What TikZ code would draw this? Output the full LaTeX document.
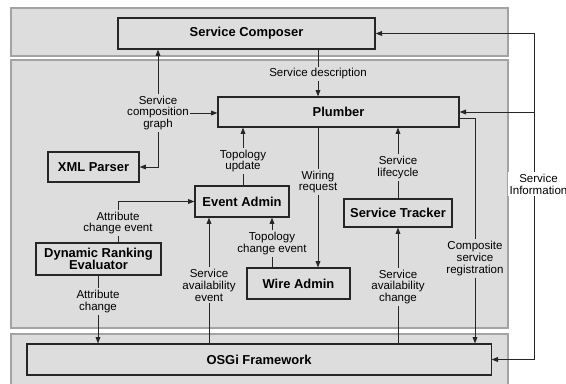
\documentclass[tikz,border=0pt]{standalone}
\usepackage{fontspec}
\setmainfont{Liberation Sans}
\usepackage{tikz}
\usetikzlibrary{arrows.meta,positioning,calc}
\definecolor{band}{HTML}{DDDDDD}
\definecolor{bandline}{HTML}{A3A3A3}
\definecolor{ink}{HTML}{262626}

\begin{document}
\begin{tikzpicture}[
    x=0.025cm, y=-0.025cm,
    layer/.style={fill=band,draw=bandline,line width=0.9pt},
    box/.style={draw=ink,fill=band,line width=0.8pt,minimum height=0.775cm,align=center,inner sep=1pt,font=\fontsize{9.2}{9}\selectfont\bfseries},
    lbl/.style={fill=band,inner sep=1pt,align=center,font=\fontsize{8.2}{8.5}\selectfont},
    link/.style={draw=ink,line width=0.6pt},
    arrow/.style={link,-{Triangle[length=1.6mm,width=1.2mm]}}
  ]
    \useasboundingbox (0,0) rectangle (566,383);

    \draw[layer] (11,8) rectangle (508,56);
    \draw[layer] (11,60) rectangle (508,328);
    \draw[layer] (11,334) rectangle (508,392);

    \node[box,minimum width=6.425cm] (composer) at (246.5,33.5) {Service Composer};
    \node[box,minimum width=6.025cm,minimum height=0.75cm] (plumber) at (338.5,112) {Plumber};
    \node[box,minimum width=2.275cm,minimum height=0.75cm] (xml) at (93.5,167) {XML Parser};
    \node[box,minimum width=2.35cm] (event) at (242,201.5) {Event Admin};
    \node[box,minimum width=2.7cm,minimum height=0.7cm] (tracker) at (398,213) {Service Tracker};
    \node[box,minimum width=2.575cm] (wire) at (298.5,283.5) {Wire Admin};
    \node[box,minimum width=3.125cm,minimum height=0.8cm] (ranking) at (98.5,259) {Dynamic Ranking\\Evaluator};
    \node[box,minimum width=11.6cm] (osgi) at (259,359.5) {OSGi Framework};

    \node[lbl] (desc) at (318,74) {Service description};
    \node[lbl] (graph) at (158,113) {Service\\composition\\graph};
    \node[lbl] (topoup) at (243,161) {Topology\\update};
    \node[lbl] (wiring) at (318,182) {Wiring\\request};
    \node[lbl] (lifecycle) at (398,167.5) {Service\\lifecycle};
    \node[lbl] (attev) at (118,223) {Attribute\\change event};
    \node[lbl] (topoch) at (272,243.5) {Topology\\change event};
    \node[lbl] (availev) at (209,285) {Service\\availability\\event};
    \node[lbl] (attch) at (98,301.5) {Attribute\\change};
    \node[lbl] (availch) at (398,287) {Service\\availability\\change};
    \node[lbl] (regist) at (475,258.5) {Composite\\service\\registration};
    \coordinate (bus) at (534,184);
    \node[lbl,fill=white] (info) at (538.5,184) {Service\\Information};

    \draw[link] (composer.south -| desc) -- (desc);
    \draw[arrow] (desc) -- (plumber.north -| desc);

    \draw[arrow] (graph) -- (graph |- composer.south);
    \draw[arrow] (graph.east) -- (graph.east -| plumber.west);
    \draw[arrow] (graph) |- (xml);

    \draw[link] (event.north -| topoup) -- (topoup);
    \draw[arrow] (topoup) -- (topoup |- plumber.south);

    \draw[link] (plumber.south -| wiring) -- (wiring);
    \draw[arrow] (wiring) -- (wiring |- wire.north);

    \draw[link] (tracker.north) -- (lifecycle);
    \draw[arrow] (lifecycle) -- (lifecycle |- plumber.south);

    \draw[link] (ranking.north -| attev) -- (attev);
    \draw[arrow] (attev) |- (event);

    \draw[link] (ranking.south -| attch) -- (attch);
    \draw[arrow] (attch) -- (attch |- osgi.north);

    \draw[link] (wire.north -| topoch) -- (topoch);
    \draw[arrow] (topoch) -- (topoch |- event.south);

    \draw[link] (osgi.north -| availev) -- (availev);
    \draw[arrow] (availev) -- (availev |- event.south);

    \draw[link] (osgi.north -| availch) -- (availch);
    \draw[arrow] (availch) -- (tracker.south);

    \draw[link] ($(plumber.east)!0.4!(plumber.south east)$) -| (regist);
    \draw[arrow] (regist) -- (regist |- osgi.north);

    \draw[arrow] (bus |- info.north) |- (composer.east);
    \draw[arrow] (bus |- plumber.east) -- (plumber.east);
    \draw[arrow] (bus |- info.south) |- (osgi.east);
  \end{tikzpicture}
\end{document}
